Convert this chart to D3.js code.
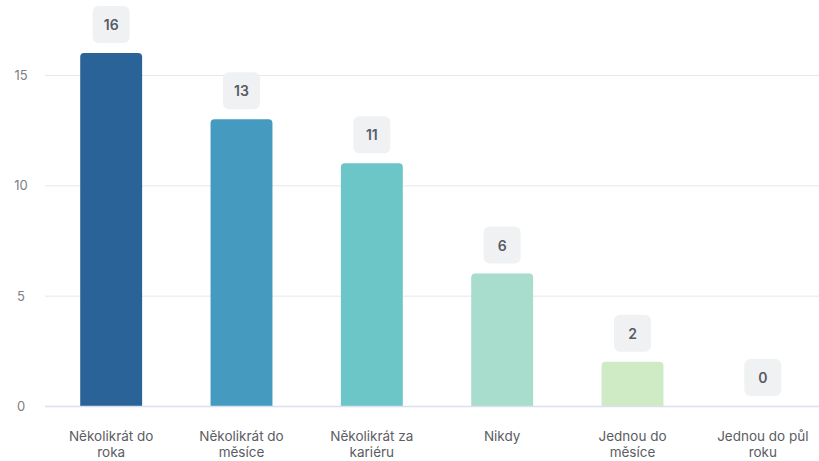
<!DOCTYPE html>
<html>
<head>
<meta charset="utf-8">
<script src="https://cdn.jsdelivr.net/npm/d3@7"></script>
<style>
  body { margin: 0; background: #fff; }
  svg { display: block; font-family: Inter, "Noto Sans", sans-serif; }
</style>
</head>
<body>
<div id="chart"></div>
<script>
// data
var categories = ["Několikrát do roka", "Několikrát do měsíce", "Několikrát za kariéru", "Nikdy", "Jednou do měsíce", "Jednou do půl roku"];
var labelLines = [["Několikrát do", "roka"], ["Několikrát do", "měsíce"], ["Několikrát za", "kariéru"], ["Nikdy"], ["Jednou do", "měsíce"], ["Jednou do půl", "roku"]];
var values = [16, 13, 11, 6, 2, 0];
var yTicks = [0, 5, 10, 15];
var colors = ["#2a6398", "#449bbf", "#6cc5c7", "#a8dccc", "#cfebc6", "#e8f6e0"];

var width = 819, height = 461;

var svg = d3.select("#chart").append("svg")
    .attr("width", width)
    .attr("height", height);

var x = d3.scaleBand()
    .domain(categories)
    .range([46, 828])
    .paddingInner(0.525)
    .paddingOuter(0.2625);

var y = d3.scaleLinear()
    .domain([0, 15])
    .range([406, 75]);

// grid lines
svg.append("g")
  .selectAll("line")
  .data(yTicks.filter(d => d > 0))
  .join("line")
    .attr("x1", 45)
    .attr("x2", width)
    .attr("y1", d => y(d) + 0.5)
    .attr("y2", d => y(d) + 0.5)
    .attr("stroke", "#e6e7ea");

// y tick labels
svg.append("g")
  .selectAll("text")
  .data(yTicks)
  .join("text")
    .attr("x", 21)
    .attr("y", d => y(d))
    .attr("text-anchor", "middle")
    .attr("dominant-baseline", "central")
    .attr("font-size", 13)
    .attr("fill", "#7d7e82")
    .text(d => d);

// bars, top corners rounded
function barPath(x0, y0, w, h, r) {
  r = Math.min(r, h, w / 2);
  return "M" + x0 + "," + (y0 + h) +
    "V" + (y0 + r) +
    "Q" + x0 + "," + y0 + " " + (x0 + r) + "," + y0 +
    "H" + (x0 + w - r) +
    "Q" + (x0 + w) + "," + y0 + " " + (x0 + w) + "," + (y0 + r) +
    "V" + (y0 + h) + "Z";
}

svg.append("g")
  .selectAll("path")
  .data(values.map((v, i) => ({cat: categories[i], v: v, i: i})).filter(d => d.v > 0))
  .join("path")
    .attr("d", d => barPath(x(d.cat), y(d.v), x.bandwidth(), y(0) - y(d.v), 4))
    .attr("fill", d => colors[d.i]);

// baseline
svg.append("line")
    .attr("x1", 45)
    .attr("x2", width)
    .attr("y1", y(0) + 0.5)
    .attr("y2", y(0) + 0.5)
    .attr("stroke", "#dcdff0")
    .attr("stroke-width", 1.5);

// value boxes
var boxes = svg.append("g")
  .selectAll("g")
  .data(values.map((v, i) => ({cat: categories[i], v: v})))
  .join("g")
    .attr("transform", d => `translate(${x(d.cat) + x.bandwidth() / 2}, ${y(d.v) - 10 - 18.5})`);

boxes.append("rect")
    .attr("x", -18.5)
    .attr("y", -18.5)
    .attr("width", 37)
    .attr("height", 37)
    .attr("rx", 6)
    .attr("fill", "#f0f1f2");

boxes.append("text")
    .attr("text-anchor", "middle")
    .attr("dominant-baseline", "central")
    .attr("font-size", 14)
    .attr("font-weight", 600)
    .attr("fill", "#575b66")
    .text(d => d.v);

// x labels
var xl = svg.append("g")
  .selectAll("text")
  .data(categories)
  .join("text")
    .attr("x", d => x(d) + x.bandwidth() / 2)
    .attr("y", 441)
    .attr("text-anchor", "middle")
    .attr("font-size", 13.5)
    .attr("fill", "#5b5d63");

xl.selectAll("tspan")
  .data((d, i) => labelLines[i])
  .join("tspan")
    .attr("x", function() { return this.parentNode.getAttribute("x"); })
    .attr("dy", (d, i) => i === 0 ? 0 : 16)
    .text(d => d);
</script>
</body>
</html>
